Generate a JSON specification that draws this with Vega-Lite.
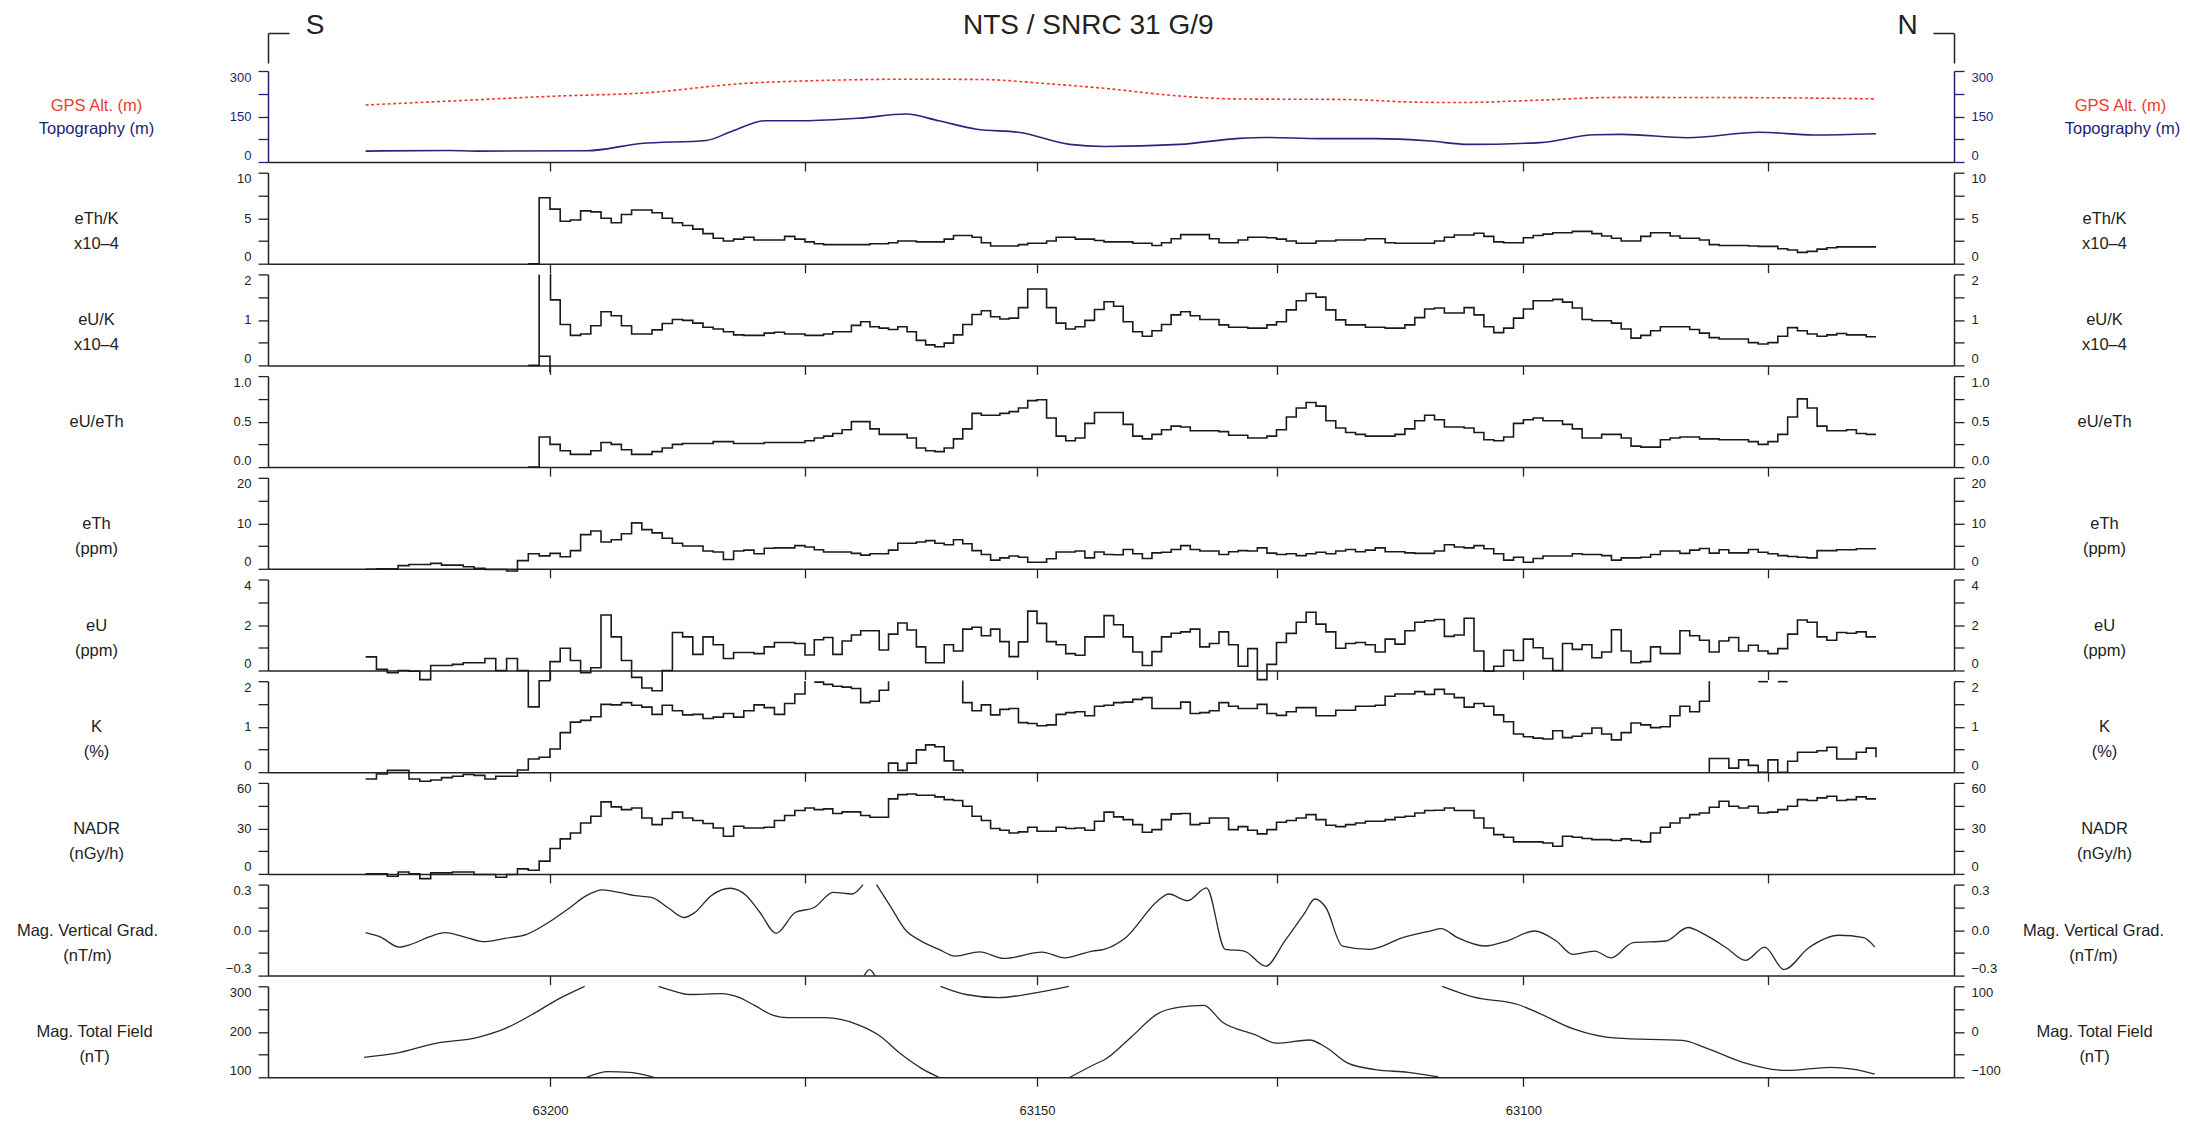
{
"$schema":"https://vega.github.io/schema/vega-lite/v6.json",
"background":"white",
"autosize":{"type":"pad"},
"padding":{"left":16,"top":11,"right":5,"bottom":5},
"bounds":"flush",
"spacing":10.7,
"config":{
 "view":{"stroke":null},
 "font":"Liberation Sans",
 "axis":{"grid":false,"domainColor":"#222","tickColor":"#222","labelColor":"#222","titleColor":"#222","labelFont":"Liberation Sans","titleFont":"Liberation Sans","labelFontSize":13,"titleFontSize":16.5,"titleFontWeight":"normal","domainWidth":1.5,"tickWidth":1.3,"tickSize":10,"labelPadding":7},
 "axisY":{"titleAngle":0,"titleAlign":"center","titleBaseline":"middle","titleLineHeight":25,"labelFlush":true,"labelOverlap":false}
},
"resolve":{"scale":{"x":"independent","y":"independent"},"axis":{"x":"independent","y":"independent"}},
"datasets":{
"gps":[{"f":63217,"v":188},{"f":63208,"v":203},{"f":63199.6,"v":217},{"f":63191.1,"v":227},{"f":63180.5,"v":260},{"f":63175.2,"v":267},{"f":63163.5,"v":273},{"f":63155.9,"v":272},{"f":63148.9,"v":258},{"f":63143,"v":243},{"f":63135.7,"v":219},{"f":63129.5,"v":208},{"f":63117.8,"v":206},{"f":63111.7,"v":198},{"f":63106.7,"v":196},{"f":63098.3,"v":204},{"f":63090.5,"v":213},{"f":63075.9,"v":212},{"f":63064,"v":208}],
"topo":[{"f":63217,"v":36},{"f":63209.2,"v":38},{"f":63206.7,"v":36},{"f":63196.4,"v":37},{"f":63191.1,"v":61},{"f":63184.7,"v":71},{"f":63182.1,"v":102},{"f":63178.9,"v":136},{"f":63175.2,"v":136},{"f":63169.3,"v":144},{"f":63164.1,"v":158},{"f":63160.6,"v":136},{"f":63156.5,"v":108},{"f":63151.8,"v":97},{"f":63146.6,"v":58},{"f":63143,"v":51},{"f":63135.1,"v":58},{"f":63128.9,"v":78},{"f":63126.1,"v":81},{"f":63120.6,"v":77},{"f":63115,"v":77},{"f":63109.4,"v":69},{"f":63105.6,"v":58},{"f":63098.3,"v":64},{"f":63092.7,"v":90},{"f":63089.9,"v":91},{"f":63083.2,"v":80},{"f":63075.9,"v":98},{"f":63070.3,"v":89},{"f":63064,"v":93}],
"thk":[{"f":63202,"v":0},{"f":63201,"v":7.25},{"f":63200,"v":6.0},{"f":63199,"v":4.66},{"f":63198,"v":4.8},{"f":63197,"v":5.8},{"f":63196,"v":5.7},{"f":63195,"v":5.0},{"f":63194,"v":4.5},{"f":63193,"v":5.4},{"f":63192,"v":5.9},{"f":63190,"v":5.6},{"f":63189,"v":5.0},{"f":63188,"v":4.5},{"f":63187,"v":4.2},{"f":63186,"v":3.8},{"f":63185,"v":3.3},{"f":63184,"v":2.8},{"f":63183,"v":2.5},{"f":63182,"v":2.7},{"f":63181,"v":2.9},{"f":63180,"v":2.6},{"f":63177,"v":3.0},{"f":63176,"v":2.7},{"f":63175,"v":2.4},{"f":63174,"v":2.2},{"f":63173,"v":2.1},{"f":63168,"v":2.2},{"f":63166,"v":2.3},{"f":63165,"v":2.5},{"f":63163,"v":2.4},{"f":63160,"v":2.7},{"f":63159,"v":3.1},{"f":63157,"v":2.9},{"f":63156,"v":2.3},{"f":63155,"v":1.95},{"f":63152,"v":2.1},{"f":63151,"v":2.25},{"f":63149,"v":2.5},{"f":63148,"v":2.9},{"f":63146,"v":2.7},{"f":63144,"v":2.55},{"f":63143,"v":2.4},{"f":63140,"v":2.25},{"f":63138,"v":2.0},{"f":63137,"v":2.3},{"f":63136,"v":2.75},{"f":63135,"v":3.2},{"f":63132,"v":2.75},{"f":63131,"v":2.3},{"f":63129,"v":2.6},{"f":63128,"v":2.9},{"f":63126,"v":2.85},{"f":63125,"v":2.7},{"f":63124,"v":2.5},{"f":63123,"v":2.25},{"f":63121,"v":2.5},{"f":63119,"v":2.6},{"f":63116,"v":2.75},{"f":63114,"v":2.3},{"f":63113,"v":2.25},{"f":63109,"v":2.5},{"f":63108,"v":2.9},{"f":63107,"v":3.15},{"f":63105,"v":3.35},{"f":63104,"v":3.0},{"f":63103,"v":2.4},{"f":63102,"v":2.3},{"f":63100,"v":2.85},{"f":63099,"v":3.1},{"f":63098,"v":3.25},{"f":63097,"v":3.4},{"f":63095,"v":3.55},{"f":63093,"v":3.3},{"f":63092,"v":3.05},{"f":63091,"v":2.8},{"f":63090,"v":2.5},{"f":63088,"v":3.0},{"f":63087,"v":3.4},{"f":63085,"v":3.05},{"f":63084,"v":2.8},{"f":63082,"v":2.6},{"f":63081,"v":2.1},{"f":63080,"v":2.0},{"f":63077,"v":1.95},{"f":63076,"v":1.9},{"f":63074,"v":1.65},{"f":63073,"v":1.5},{"f":63072,"v":1.25},{"f":63071,"v":1.35},{"f":63070,"v":1.6},{"f":63069,"v":1.75},{"f":63068,"v":1.85},{"f":63064,"v":1.85}],
"uk":[{"s":1,"f":63202,"v":0},{"s":1,"f":63201,"v":2.0},{"s":2,"f":63201,"v":0.2},{"s":2,"f":63200,"v":-0.15},{"s":3,"f":63200,"v":2.0},{"s":3,"f":63199.95,"v":1.44},{"s":3,"f":63199,"v":0.9},{"s":3,"f":63198,"v":0.66},{"s":3,"f":63197,"v":0.69},{"s":3,"f":63196,"v":0.87},{"s":3,"f":63195,"v":1.18},{"s":3,"f":63194,"v":1.09},{"s":3,"f":63193,"v":0.87},{"s":3,"f":63192,"v":0.69},{"s":3,"f":63190,"v":0.78},{"s":3,"f":63189,"v":0.92},{"s":3,"f":63188,"v":1.01},{"s":3,"f":63187,"v":0.99},{"s":3,"f":63186,"v":0.93},{"s":3,"f":63185,"v":0.84},{"s":3,"f":63184,"v":0.8},{"s":3,"f":63183,"v":0.74},{"s":3,"f":63182,"v":0.67},{"s":3,"f":63181,"v":0.66},{"s":3,"f":63179,"v":0.71},{"s":3,"f":63178,"v":0.73},{"s":3,"f":63177,"v":0.69},{"s":3,"f":63175,"v":0.66},{"s":3,"f":63173,"v":0.69},{"s":3,"f":63172,"v":0.74},{"s":3,"f":63170,"v":0.88},{"s":3,"f":63169,"v":0.96},{"s":3,"f":63168,"v":0.85},{"s":3,"f":63167,"v":0.82},{"s":3,"f":63166,"v":0.79},{"s":3,"f":63165,"v":0.85},{"s":3,"f":63164,"v":0.74},{"s":3,"f":63163,"v":0.55},{"s":3,"f":63162,"v":0.45},{"s":3,"f":63161,"v":0.41},{"s":3,"f":63160,"v":0.49},{"s":3,"f":63159,"v":0.67},{"s":3,"f":63158,"v":0.9},{"s":3,"f":63157,"v":1.12},{"s":3,"f":63156,"v":1.2},{"s":3,"f":63155,"v":1.07},{"s":3,"f":63154,"v":1.02},{"s":3,"f":63153,"v":1.04},{"s":3,"f":63152,"v":1.27},{"s":3,"f":63151,"v":1.68},{"s":3,"f":63149,"v":1.27},{"s":3,"f":63148,"v":0.93},{"s":3,"f":63147,"v":0.8},{"s":3,"f":63146,"v":0.85},{"s":3,"f":63145,"v":0.99},{"s":3,"f":63144,"v":1.23},{"s":3,"f":63143,"v":1.4},{"s":3,"f":63142,"v":1.3},{"s":3,"f":63141,"v":0.96},{"s":3,"f":63140,"v":0.74},{"s":3,"f":63139,"v":0.64},{"s":3,"f":63138,"v":0.76},{"s":3,"f":63137,"v":0.9},{"s":3,"f":63136,"v":1.11},{"s":3,"f":63135,"v":1.18},{"s":3,"f":63134,"v":1.09},{"s":3,"f":63133,"v":1.01},{"s":3,"f":63131,"v":0.89},{"s":3,"f":63130,"v":0.84},{"s":3,"f":63128,"v":0.82},{"s":3,"f":63126,"v":0.89},{"s":3,"f":63125,"v":0.96},{"s":3,"f":63124,"v":1.22},{"s":3,"f":63123,"v":1.42},{"s":3,"f":63122,"v":1.58},{"s":3,"f":63121,"v":1.5},{"s":3,"f":63120,"v":1.22},{"s":3,"f":63119,"v":1.0},{"s":3,"f":63118,"v":0.89},{"s":3,"f":63116,"v":0.84},{"s":3,"f":63114,"v":0.82},{"s":3,"f":63112,"v":0.89},{"s":3,"f":63111,"v":1.05},{"s":3,"f":63110,"v":1.24},{"s":3,"f":63109,"v":1.26},{"s":3,"f":63108,"v":1.15},{"s":3,"f":63106,"v":1.27},{"s":3,"f":63105,"v":1.11},{"s":3,"f":63104,"v":0.85},{"s":3,"f":63103,"v":0.72},{"s":3,"f":63102,"v":0.82},{"s":3,"f":63101,"v":1.04},{"s":3,"f":63100,"v":1.24},{"s":3,"f":63099,"v":1.42},{"s":3,"f":63097,"v":1.45},{"s":3,"f":63096,"v":1.39},{"s":3,"f":63095,"v":1.26},{"s":3,"f":63094,"v":1.01},{"s":3,"f":63093,"v":0.98},{"s":3,"f":63091,"v":0.93},{"s":3,"f":63090,"v":0.8},{"s":3,"f":63089,"v":0.6},{"s":3,"f":63088,"v":0.66},{"s":3,"f":63087,"v":0.76},{"s":3,"f":63086,"v":0.85},{"s":3,"f":63083,"v":0.79},{"s":3,"f":63082,"v":0.71},{"s":3,"f":63081,"v":0.61},{"s":3,"f":63080,"v":0.58},{"s":3,"f":63077,"v":0.5},{"s":3,"f":63076,"v":0.47},{"s":3,"f":63075,"v":0.5},{"s":3,"f":63074,"v":0.64},{"s":3,"f":63073,"v":0.83},{"s":3,"f":63072,"v":0.76},{"s":3,"f":63071,"v":0.69},{"s":3,"f":63070,"v":0.64},{"s":3,"f":63069,"v":0.67},{"s":3,"f":63068,"v":0.7},{"s":3,"f":63067,"v":0.67},{"s":3,"f":63065,"v":0.63},{"s":3,"f":63064,"v":0.63}],
"uth":[{"f":63202,"v":0},{"f":63201,"v":0.33},{"f":63200,"v":0.25},{"f":63199,"v":0.18},{"f":63198,"v":0.14},{"f":63196,"v":0.18},{"f":63195,"v":0.27},{"f":63194,"v":0.25},{"f":63193,"v":0.19},{"f":63192,"v":0.14},{"f":63190,"v":0.17},{"f":63189,"v":0.21},{"f":63188,"v":0.25},{"f":63187,"v":0.26},{"f":63184,"v":0.28},{"f":63182,"v":0.26},{"f":63179,"v":0.27},{"f":63175,"v":0.29},{"f":63174,"v":0.32},{"f":63173,"v":0.34},{"f":63172,"v":0.37},{"f":63171,"v":0.41},{"f":63170,"v":0.5},{"f":63168,"v":0.42},{"f":63167,"v":0.36},{"f":63164,"v":0.32},{"f":63163,"v":0.21},{"f":63162,"v":0.18},{"f":63161,"v":0.17},{"f":63160,"v":0.21},{"f":63159,"v":0.31},{"f":63158,"v":0.42},{"f":63157,"v":0.59},{"f":63156,"v":0.57},{"f":63154,"v":0.59},{"f":63153,"v":0.61},{"f":63152,"v":0.65},{"f":63151,"v":0.73},{"f":63150,"v":0.74},{"f":63149,"v":0.54},{"f":63148,"v":0.34},{"f":63147,"v":0.29},{"f":63146,"v":0.32},{"f":63145,"v":0.48},{"f":63144,"v":0.6},{"f":63141,"v":0.47},{"f":63140,"v":0.34},{"f":63139,"v":0.31},{"f":63138,"v":0.36},{"f":63137,"v":0.41},{"f":63136,"v":0.45},{"f":63135,"v":0.44},{"f":63134,"v":0.4},{"f":63131,"v":0.39},{"f":63130,"v":0.35},{"f":63128,"v":0.32},{"f":63126,"v":0.34},{"f":63125,"v":0.41},{"f":63124,"v":0.55},{"f":63123,"v":0.65},{"f":63122,"v":0.71},{"f":63121,"v":0.67},{"f":63120,"v":0.51},{"f":63119,"v":0.43},{"f":63118,"v":0.38},{"f":63117,"v":0.36},{"f":63116,"v":0.34},{"f":63113,"v":0.36},{"f":63112,"v":0.42},{"f":63111,"v":0.51},{"f":63110,"v":0.57},{"f":63109,"v":0.52},{"f":63108,"v":0.44},{"f":63106,"v":0.43},{"f":63105,"v":0.38},{"f":63104,"v":0.3},{"f":63103,"v":0.29},{"f":63102,"v":0.33},{"f":63101,"v":0.48},{"f":63100,"v":0.52},{"f":63099,"v":0.54},{"f":63098,"v":0.51},{"f":63096,"v":0.47},{"f":63095,"v":0.42},{"f":63094,"v":0.32},{"f":63092,"v":0.36},{"f":63090,"v":0.32},{"f":63089,"v":0.23},{"f":63088,"v":0.22},{"f":63086,"v":0.3},{"f":63085,"v":0.32},{"f":63084,"v":0.33},{"f":63082,"v":0.31},{"f":63080,"v":0.3},{"f":63077,"v":0.28},{"f":63076,"v":0.25},{"f":63075,"v":0.28},{"f":63074,"v":0.36},{"f":63073,"v":0.55},{"f":63072,"v":0.75},{"f":63071,"v":0.65},{"f":63070,"v":0.45},{"f":63069,"v":0.4},{"f":63067,"v":0.41},{"f":63066,"v":0.37},{"f":63065,"v":0.36},{"f":63064,"v":0.36}],
"th":[{"f":63217,"v":-0.1},{"f":63216,"v":0},{"f":63214,"v":0.7},{"f":63213,"v":0.95},{"f":63211,"v":1.2},{"f":63210,"v":0.8},{"f":63208,"v":0.45},{"f":63207,"v":0.1},{"f":63206,"v":-0.15},{"f":63204,"v":-0.5},{"f":63203,"v":1.8},{"f":63202,"v":3.3},{"f":63201,"v":2.85},{"f":63200,"v":3.4},{"f":63199,"v":2.65},{"f":63198,"v":4.0},{"f":63197,"v":7.5},{"f":63196,"v":8.3},{"f":63195,"v":5.9},{"f":63194,"v":6.4},{"f":63193,"v":7.7},{"f":63192,"v":10.1},{"f":63191,"v":8.6},{"f":63190,"v":7.9},{"f":63189,"v":6.7},{"f":63188,"v":5.6},{"f":63187,"v":5.0},{"f":63185,"v":3.9},{"f":63184,"v":3.7},{"f":63183,"v":2.05},{"f":63182,"v":3.9},{"f":63181,"v":4.1},{"f":63180,"v":3.3},{"f":63179,"v":4.5},{"f":63178,"v":4.6},{"f":63176,"v":5.1},{"f":63175,"v":4.8},{"f":63174,"v":4.2},{"f":63173,"v":3.7},{"f":63170,"v":3.4},{"f":63169,"v":3.0},{"f":63168,"v":3.3},{"f":63166,"v":4.1},{"f":63165,"v":5.6},{"f":63163,"v":5.9},{"f":63162,"v":6.2},{"f":63161,"v":5.6},{"f":63160,"v":5.3},{"f":63159,"v":6.4},{"f":63158,"v":5.5},{"f":63157,"v":4.0},{"f":63156,"v":3.15},{"f":63155,"v":1.9},{"f":63154,"v":2.4},{"f":63153,"v":2.8},{"f":63152,"v":2.55},{"f":63151,"v":1.45},{"f":63149,"v":2.2},{"f":63148,"v":3.7},{"f":63146,"v":3.9},{"f":63145,"v":2.4},{"f":63144,"v":3.7},{"f":63143,"v":3.15},{"f":63142,"v":3.1},{"f":63141,"v":4.25},{"f":63140,"v":3.3},{"f":63139,"v":2.25},{"f":63138,"v":3.5},{"f":63137,"v":3.65},{"f":63136,"v":4.25},{"f":63135,"v":5.1},{"f":63134,"v":4.25},{"f":63133,"v":3.9},{"f":63131,"v":3.15},{"f":63130,"v":3.75},{"f":63129,"v":4.0},{"f":63128,"v":3.9},{"f":63127,"v":4.6},{"f":63126,"v":3.45},{"f":63125,"v":3.15},{"f":63124,"v":3.3},{"f":63123,"v":2.9},{"f":63122,"v":3.3},{"f":63121,"v":3.65},{"f":63120,"v":3.3},{"f":63119,"v":3.9},{"f":63118,"v":4.25},{"f":63117,"v":3.75},{"f":63116,"v":4.1},{"f":63115,"v":4.6},{"f":63114,"v":3.75},{"f":63112,"v":3.5},{"f":63111,"v":3.4},{"f":63109,"v":3.9},{"f":63108,"v":5.3},{"f":63107,"v":4.8},{"f":63106,"v":4.6},{"f":63105,"v":5.1},{"f":63104,"v":4.4},{"f":63103,"v":3.3},{"f":63102,"v":1.9},{"f":63101,"v":2.55},{"f":63100,"v":1.45},{"f":63099,"v":2.25},{"f":63098,"v":2.8},{"f":63095,"v":3.3},{"f":63094,"v":3.15},{"f":63092,"v":2.9},{"f":63091,"v":1.9},{"f":63090,"v":2.4},{"f":63088,"v":2.55},{"f":63087,"v":3.15},{"f":63086,"v":3.9},{"f":63084,"v":3.4},{"f":63083,"v":4.1},{"f":63082,"v":4.45},{"f":63081,"v":3.45},{"f":63080,"v":4.2},{"f":63079,"v":3.5},{"f":63077,"v":4.25},{"f":63076,"v":3.65},{"f":63075,"v":3.3},{"f":63074,"v":2.9},{"f":63073,"v":2.7},{"f":63072,"v":2.55},{"f":63071,"v":2.4},{"f":63070,"v":4.0},{"f":63068,"v":4.2},{"f":63066,"v":4.4},{"f":63064,"v":4.4}],
"u":[{"f":63217,"v":0.6},{"f":63216,"v":0.05},{"f":63215,"v":-0.1},{"f":63214,"v":0},{"f":63213,"v":-0.03},{"f":63212,"v":-0.4},{"f":63211,"v":0.22},{"f":63209,"v":0.27},{"f":63208,"v":0.34},{"f":63206,"v":0.53},{"f":63205,"v":0},{"f":63204,"v":0.53},{"f":63203,"v":0},{"f":63202,"v":-1.6},{"f":63201,"v":-0.45},{"f":63200,"v":0.39},{"f":63199,"v":0.98},{"f":63198,"v":0.44},{"f":63197,"v":-0.1},{"f":63196,"v":0.12},{"f":63195,"v":2.44},{"f":63194,"v":1.48},{"f":63193,"v":0.44},{"f":63192,"v":-0.3},{"f":63191,"v":-0.77},{"f":63190,"v":-0.89},{"f":63189,"v":0},{"f":63188,"v":1.67},{"f":63187,"v":1.48},{"f":63186,"v":0.71},{"f":63185,"v":1.48},{"f":63184,"v":1.13},{"f":63183,"v":0.53},{"f":63182,"v":0.79},{"f":63180,"v":0.74},{"f":63179,"v":1.04},{"f":63178,"v":1.23},{"f":63176,"v":1.19},{"f":63175,"v":0.68},{"f":63174,"v":1.35},{"f":63173,"v":1.45},{"f":63172,"v":0.71},{"f":63171,"v":1.3},{"f":63170,"v":1.56},{"f":63169,"v":1.75},{"f":63167,"v":0.9},{"f":63166,"v":1.6},{"f":63165,"v":2.09},{"f":63164,"v":1.78},{"f":63163,"v":1.04},{"f":63162,"v":0.34},{"f":63160,"v":1.13},{"f":63159,"v":0.86},{"f":63158,"v":1.82},{"f":63157,"v":1.9},{"f":63156,"v":1.53},{"f":63155,"v":1.82},{"f":63154,"v":1.27},{"f":63153,"v":0.61},{"f":63152,"v":1.26},{"f":63151,"v":2.61},{"f":63150,"v":2.07},{"f":63149,"v":1.27},{"f":63148,"v":1.13},{"f":63147,"v":0.74},{"f":63146,"v":0.67},{"f":63145,"v":1.48},{"f":63143,"v":2.41},{"f":63142,"v":2.01},{"f":63141,"v":1.48},{"f":63140,"v":0.81},{"f":63139,"v":0.22},{"f":63138,"v":0.83},{"f":63137,"v":1.48},{"f":63136,"v":1.64},{"f":63135,"v":1.7},{"f":63134,"v":1.82},{"f":63133,"v":1.04},{"f":63132,"v":1.19},{"f":63131,"v":1.7},{"f":63130,"v":1.13},{"f":63129,"v":0.19},{"f":63128,"v":0.96},{"f":63127,"v":-0.4},{"f":63126,"v":0.27},{"f":63125,"v":1.23},{"f":63124,"v":1.63},{"f":63123,"v":2.12},{"f":63122,"v":2.56},{"f":63121,"v":2.04},{"f":63120,"v":1.7},{"f":63119,"v":0.98},{"f":63118,"v":1.19},{"f":63117,"v":1.23},{"f":63116,"v":1.13},{"f":63115,"v":0.81},{"f":63114,"v":1.38},{"f":63113,"v":1.16},{"f":63112,"v":1.75},{"f":63111,"v":2.12},{"f":63110,"v":2.19},{"f":63109,"v":2.24},{"f":63108,"v":1.5},{"f":63107,"v":1.56},{"f":63106,"v":2.3},{"f":63105,"v":0.86},{"f":63104,"v":-0.03},{"f":63103,"v":0.19},{"f":63102,"v":0.89},{"f":63101,"v":0.44},{"f":63100,"v":1.38},{"f":63099,"v":1.0},{"f":63098,"v":0.53},{"f":63097,"v":0},{"f":63096,"v":1.19},{"f":63095,"v":0.93},{"f":63094,"v":1.13},{"f":63093,"v":0.56},{"f":63092,"v":0.81},{"f":63091,"v":1.79},{"f":63090,"v":0.86},{"f":63089,"v":0.34},{"f":63088,"v":0.39},{"f":63087,"v":1.04},{"f":63086,"v":0.74},{"f":63084,"v":1.75},{"f":63083,"v":1.53},{"f":63082,"v":1.33},{"f":63081,"v":0.81},{"f":63080,"v":1.3},{"f":63079,"v":1.45},{"f":63078,"v":0.86},{"f":63077,"v":1.11},{"f":63076,"v":0.86},{"f":63075,"v":0.74},{"f":63074,"v":0.96},{"f":63073,"v":1.6},{"f":63072,"v":2.22},{"f":63071,"v":2.12},{"f":63070,"v":1.48},{"f":63069,"v":1.33},{"f":63068,"v":1.67},{"f":63067,"v":1.64},{"f":63066,"v":1.7},{"f":63065,"v":1.48},{"f":63064,"v":1.48}],
"k":[{"s":1,"f":63217,"v":-0.15},{"s":1,"f":63216,"v":-0.04},{"s":1,"f":63215,"v":0.04},{"s":1,"f":63213,"v":-0.15},{"s":1,"f":63212,"v":-0.2},{"s":1,"f":63211,"v":-0.17},{"s":1,"f":63210,"v":-0.12},{"s":1,"f":63209,"v":-0.09},{"s":1,"f":63208,"v":-0.05},{"s":1,"f":63207,"v":-0.07},{"s":1,"f":63206,"v":-0.15},{"s":1,"f":63205,"v":-0.09},{"s":1,"f":63203,"v":0.05},{"s":1,"f":63202,"v":0.29},{"s":1,"f":63201,"v":0.33},{"s":1,"f":63200,"v":0.51},{"s":1,"f":63199,"v":0.87},{"s":1,"f":63198,"v":1.1},{"s":1,"f":63197,"v":1.14},{"s":1,"f":63196,"v":1.22},{"s":1,"f":63195,"v":1.49},{"s":1,"f":63194,"v":1.48},{"s":1,"f":63193,"v":1.53},{"s":1,"f":63192,"v":1.47},{"s":1,"f":63191,"v":1.43},{"s":1,"f":63190,"v":1.27},{"s":1,"f":63189,"v":1.47},{"s":1,"f":63188,"v":1.35},{"s":1,"f":63187,"v":1.26},{"s":1,"f":63186,"v":1.27},{"s":1,"f":63185,"v":1.18},{"s":1,"f":63184,"v":1.21},{"s":1,"f":63183,"v":1.29},{"s":1,"f":63182,"v":1.21},{"s":1,"f":63181,"v":1.35},{"s":1,"f":63180,"v":1.48},{"s":1,"f":63179,"v":1.42},{"s":1,"f":63178,"v":1.27},{"s":1,"f":63177,"v":1.51},{"s":1,"f":63176,"v":1.72},{"s":1,"f":63175,"v":2.0},
{"s":2,"f":63174,"v":1.98},{"s":2,"f":63173,"v":1.93},{"s":2,"f":63172,"v":1.89},{"s":2,"f":63171,"v":1.87},{"s":2,"f":63170,"v":1.84},{"s":2,"f":63169,"v":1.53},{"s":2,"f":63168,"v":1.56},{"s":2,"f":63167,"v":1.8},{"s":2,"f":63166,"v":2.0},
{"s":3,"f":63166.05,"v":0},{"s":3,"f":63166,"v":0.2},{"s":3,"f":63165,"v":0.04},{"s":3,"f":63164,"v":0.2},{"s":3,"f":63163,"v":0.49},{"s":3,"f":63162,"v":0.6},{"s":3,"f":63161,"v":0.56},{"s":3,"f":63160,"v":0.25},{"s":3,"f":63159,"v":0.05},{"s":3,"f":63158,"v":0},
{"s":4,"f":63158.05,"v":2.0},{"s":4,"f":63158,"v":1.53},{"s":4,"f":63157,"v":1.35},{"s":4,"f":63156,"v":1.48},{"s":4,"f":63155,"v":1.26},{"s":4,"f":63154,"v":1.38},{"s":4,"f":63153,"v":1.4},{"s":4,"f":63152,"v":1.09},{"s":4,"f":63151,"v":1.07},{"s":4,"f":63150,"v":1.02},{"s":4,"f":63149,"v":1.04},{"s":4,"f":63148,"v":1.27},{"s":4,"f":63147,"v":1.31},{"s":4,"f":63146,"v":1.33},{"s":4,"f":63145,"v":1.24},{"s":4,"f":63144,"v":1.45},{"s":4,"f":63143,"v":1.47},{"s":4,"f":63142,"v":1.53},{"s":4,"f":63141,"v":1.54},{"s":4,"f":63140,"v":1.6},{"s":4,"f":63139,"v":1.64},{"s":4,"f":63138,"v":1.4},{"s":4,"f":63135,"v":1.54},{"s":4,"f":63134,"v":1.29},{"s":4,"f":63133,"v":1.31},{"s":4,"f":63132,"v":1.35},{"s":4,"f":63131,"v":1.53},{"s":4,"f":63130,"v":1.45},{"s":4,"f":63129,"v":1.4},{"s":4,"f":63127,"v":1.49},{"s":4,"f":63126,"v":1.29},{"s":4,"f":63125,"v":1.25},{"s":4,"f":63124,"v":1.33},{"s":4,"f":63123,"v":1.42},{"s":4,"f":63121,"v":1.24},{"s":4,"f":63119,"v":1.36},{"s":4,"f":63117,"v":1.45},{"s":4,"f":63115,"v":1.47},{"s":4,"f":63114,"v":1.67},{"s":4,"f":63113,"v":1.72},{"s":4,"f":63111,"v":1.77},{"s":4,"f":63110,"v":1.71},{"s":4,"f":63109,"v":1.82},{"s":4,"f":63108,"v":1.72},{"s":4,"f":63107,"v":1.64},{"s":4,"f":63106,"v":1.43},{"s":4,"f":63105,"v":1.51},{"s":4,"f":63104,"v":1.45},{"s":4,"f":63103,"v":1.26},{"s":4,"f":63102,"v":1.11},{"s":4,"f":63101,"v":0.84},{"s":4,"f":63100,"v":0.78},{"s":4,"f":63099,"v":0.75},{"s":4,"f":63098,"v":0.73},{"s":4,"f":63097,"v":0.91},{"s":4,"f":63096,"v":0.76},{"s":4,"f":63095,"v":0.79},{"s":4,"f":63094,"v":0.85},{"s":4,"f":63093,"v":0.97},{"s":4,"f":63092,"v":0.84},{"s":4,"f":63091,"v":0.71},{"s":4,"f":63090,"v":0.87},{"s":4,"f":63089,"v":1.08},{"s":4,"f":63088,"v":1.04},{"s":4,"f":63087,"v":0.98},{"s":4,"f":63086,"v":1.0},{"s":4,"f":63085,"v":1.24},{"s":4,"f":63084,"v":1.45},{"s":4,"f":63083,"v":1.33},{"s":4,"f":63082,"v":1.56},{"s":4,"f":63081,"v":2.0},
{"s":5,"f":63081.05,"v":0},{"s":5,"f":63081,"v":0.3},{"s":5,"f":63079,"v":0.09},{"s":5,"f":63078,"v":0.27},{"s":5,"f":63077,"v":0.15},{"s":5,"f":63076,"v":0},{"s":5,"f":63075,"v":0.27},{"s":5,"f":63074,"v":0},{"s":5,"f":63073,"v":0.24},{"s":5,"f":63072,"v":0.44},{"s":5,"f":63070,"v":0.47},{"s":5,"f":63069,"v":0.55},{"s":5,"f":63068,"v":0.29},{"s":5,"f":63066,"v":0.44},{"s":5,"f":63065,"v":0.53},{"s":5,"f":63064,"v":0.33},
{"s":6,"f":63076,"v":1.99},{"s":6,"f":63075,"v":1.99},{"s":7,"f":63074,"v":1.99},{"s":7,"f":63073,"v":1.99}],
"nadr":[{"f":63217,"v":0},{"f":63215,"v":-1.5},{"f":63214,"v":1.3},{"f":63213,"v":0},{"f":63212,"v":-3.1},{"f":63211,"v":0.7},{"f":63209,"v":1.3},{"f":63207,"v":-0.4},{"f":63205,"v":-2.2},{"f":63204,"v":-0.4},{"f":63203,"v":3.3},{"f":63202,"v":2.4},{"f":63201,"v":8.4},{"f":63200,"v":16.7},{"f":63199,"v":23.1},{"f":63198,"v":27},{"f":63197,"v":33.6},{"f":63196,"v":38},{"f":63195,"v":47.5},{"f":63194,"v":44.2},{"f":63193,"v":42.4},{"f":63192,"v":43.5},{"f":63191,"v":36.9},{"f":63190,"v":32.5},{"f":63189,"v":36.5},{"f":63188,"v":40.7},{"f":63187,"v":36.9},{"f":63186,"v":35.2},{"f":63185,"v":33.2},{"f":63184,"v":30.3},{"f":63183,"v":24.8},{"f":63182,"v":31.4},{"f":63181,"v":30.3},{"f":63179,"v":30.8},{"f":63178,"v":35.2},{"f":63177,"v":38.5},{"f":63176,"v":41.8},{"f":63175,"v":43.5},{"f":63174,"v":42.4},{"f":63173,"v":42.9},{"f":63172,"v":39.8},{"f":63171,"v":40.9},{"f":63169,"v":38.5},{"f":63168,"v":37.4},{"f":63166,"v":49.5},{"f":63165,"v":52.3},{"f":63164,"v":52.7},{"f":63163,"v":51.9},{"f":63161,"v":50.8},{"f":63160,"v":49},{"f":63159,"v":48.4},{"f":63158,"v":44.6},{"f":63157,"v":38},{"f":63156,"v":35.2},{"f":63155,"v":29.9},{"f":63154,"v":28.8},{"f":63153,"v":27},{"f":63152,"v":27.7},{"f":63151,"v":30.8},{"f":63150,"v":28.1},{"f":63148,"v":30.8},{"f":63147,"v":29.9},{"f":63146,"v":30.3},{"f":63145,"v":28.8},{"f":63144,"v":34.7},{"f":63143,"v":40.7},{"f":63142,"v":37.6},{"f":63141,"v":35.8},{"f":63140,"v":32.5},{"f":63139,"v":27.5},{"f":63138,"v":29.2},{"f":63137,"v":35.8},{"f":63136,"v":39.6},{"f":63135,"v":39.8},{"f":63134,"v":32.5},{"f":63133,"v":33.4},{"f":63132,"v":36.9},{"f":63130,"v":29.2},{"f":63129,"v":31.2},{"f":63128,"v":28.8},{"f":63127,"v":26.4},{"f":63126,"v":29.2},{"f":63125,"v":34.1},{"f":63124,"v":35.2},{"f":63123,"v":36.9},{"f":63122,"v":39.1},{"f":63121,"v":35.8},{"f":63120,"v":32.1},{"f":63119,"v":31.2},{"f":63118,"v":32.5},{"f":63117,"v":33.6},{"f":63116,"v":34.7},{"f":63114,"v":35.8},{"f":63113,"v":37.4},{"f":63112,"v":38},{"f":63111,"v":40.2},{"f":63110,"v":41.8},{"f":63109,"v":42},{"f":63108,"v":43.5},{"f":63107,"v":41.8},{"f":63105,"v":36.9},{"f":63104,"v":30.3},{"f":63103,"v":25.9},{"f":63102,"v":24.2},{"f":63101,"v":21.1},{"f":63098,"v":20.4},{"f":63097,"v":18.2},{"f":63096,"v":24.8},{"f":63095,"v":24.2},{"f":63094,"v":23.3},{"f":63093,"v":22.6},{"f":63091,"v":22},{"f":63090,"v":23.1},{"f":63089,"v":22},{"f":63088,"v":21.1},{"f":63087,"v":27},{"f":63086,"v":30.8},{"f":63085,"v":33.6},{"f":63084,"v":36.9},{"f":63083,"v":39.1},{"f":63082,"v":40.2},{"f":63081,"v":43.9},{"f":63080,"v":47.9},{"f":63079,"v":44.6},{"f":63078,"v":43.5},{"f":63077,"v":44.6},{"f":63076,"v":40.2},{"f":63075,"v":40.7},{"f":63074,"v":42.4},{"f":63073,"v":44.6},{"f":63072,"v":49},{"f":63071,"v":48.4},{"f":63070,"v":50.1},{"f":63069,"v":51.2},{"f":63068,"v":48.4},{"f":63067,"v":49},{"f":63066,"v":50.8},{"f":63065,"v":49.5},{"f":63064,"v":49.5}],
"mvg":[{"s":1,"f":63217,"v":-0.017},{"s":1,"f":63215.65,"v":-0.045},{"s":1,"f":63213.9,"v":-0.112},{"s":1,"f":63212.65,"v":-0.09},{"s":1,"f":63211.15,"v":-0.045},{"s":1,"f":63209.65,"v":-0.017},{"s":1,"f":63208.15,"v":-0.039},{"s":1,"f":63206.15,"v":-0.076},{"s":1,"f":63204.15,"v":-0.054},{"s":1,"f":63202.15,"v":-0.028},{"s":1,"f":63200.15,"v":0.05},{"s":1,"f":63198.03,"v":0.149},{"s":1,"f":63196.44,"v":0.227},{"s":1,"f":63194.84,"v":0.265},{"s":1,"f":63193.24,"v":0.249},{"s":1,"f":63191.65,"v":0.227},{"s":1,"f":63190.05,"v":0.216},{"s":1,"f":63188.46,"v":0.149},{"s":1,"f":63186.86,"v":0.083},{"s":1,"f":63185.8,"v":0.116},{"s":1,"f":63184.2,"v":0.227},{"s":1,"f":63182.34,"v":0.276},{"s":1,"f":63180.74,"v":0.227},{"s":1,"f":63179.41,"v":0.116},{"s":1,"f":63177.82,"v":-0.021},{"s":1,"f":63175.96,"v":0.116},{"s":1,"f":63174.01,"v":0.149},{"s":1,"f":63171.96,"v":0.249},{"s":1,"f":63169.92,"v":0.238},{"s":1,"f":63168.75,"v":0.3},
{"s":2,"f":63168.63,"v":-0.3},{"s":2,"f":63168.05,"v":-0.26},{"s":2,"f":63167.46,"v":-0.3},
{"s":3,"f":63167.29,"v":0.3},{"s":3,"f":63165.83,"v":0.16},{"s":3,"f":63164.08,"v":-0.006},{"s":3,"f":63162.62,"v":-0.068},{"s":3,"f":63160.57,"v":-0.127},{"s":3,"f":63158.82,"v":-0.172},{"s":3,"f":63156.19,"v":-0.143},{"s":3,"f":63153.56,"v":-0.187},{"s":3,"f":63149.47,"v":-0.145},{"s":3,"f":63147.14,"v":-0.183},{"s":3,"f":63144.22,"v":-0.138},{"s":3,"f":63143,"v":-0.127},{"s":3,"f":63140.75,"v":-0.05},{"s":3,"f":63137.38,"v":0.194},{"s":3,"f":63136.25,"v":0.238},{"s":3,"f":63134.28,"v":0.194},{"s":3,"f":63132.31,"v":0.278},{"s":3,"f":63130.35,"v":-0.127},{"s":3,"f":63128.38,"v":-0.138},{"s":3,"f":63126.13,"v":-0.238},{"s":3,"f":63124.17,"v":-0.072},{"s":3,"f":63122.22,"v":0.105},{"s":3,"f":63121.11,"v":0.205},{"s":3,"f":63120,"v":0.149},{"s":3,"f":63118.33,"v":-0.105},{"s":3,"f":63115.56,"v":-0.127},{"s":3,"f":63112.22,"v":-0.05},{"s":3,"f":63109.44,"v":-0.006},{"s":3,"f":63108.33,"v":0.01},{"s":3,"f":63106.67,"v":-0.05},{"s":3,"f":63103.89,"v":-0.105},{"s":3,"f":63101.67,"v":-0.072},{"s":3,"f":63098.88,"v":-0.006},{"s":3,"f":63096.64,"v":-0.072},{"s":3,"f":63094.96,"v":-0.16},{"s":3,"f":63092.71,"v":-0.138},{"s":3,"f":63091.03,"v":-0.183},{"s":3,"f":63088.79,"v":-0.083},{"s":3,"f":63085.43,"v":-0.072},{"s":3,"f":63083.18,"v":0.017},{"s":3,"f":63081.5,"v":-0.028},{"s":3,"f":63079.26,"v":-0.116},{"s":3,"f":63077.3,"v":-0.2},{"s":3,"f":63075.34,"v":-0.112},{"s":3,"f":63073.37,"v":-0.26},{"s":3,"f":63070.85,"v":-0.116},{"s":3,"f":63067.77,"v":-0.034},{"s":3,"f":63065.25,"v":-0.05},{"s":3,"f":63064.13,"v":-0.112}],
"mtf":[{"s":1,"f":63217.15,"v":144},{"s":1,"f":63214.15,"v":153},{"s":1,"f":63210.65,"v":174},{"s":1,"f":63206.65,"v":188},{"s":1,"f":63204.15,"v":207},{"s":1,"f":63201.65,"v":238},{"s":1,"f":63199.1,"v":273},{"s":1,"f":63196.6,"v":300},
{"s":2,"f":63196.44,"v":100},{"s":2,"f":63194.31,"v":112.5},{"s":2,"f":63192.18,"v":111},{"s":2,"f":63189.79,"v":100},
{"s":3,"f":63189.36,"v":300},{"s":3,"f":63187.93,"v":290},{"s":3,"f":63186.33,"v":282},{"s":3,"f":63183.14,"v":284},{"s":3,"f":63181.54,"v":276},{"s":3,"f":63179.95,"v":258},{"s":3,"f":63178.09,"v":236},{"s":3,"f":63176.76,"v":231},{"s":3,"f":63172.84,"v":231},{"s":3,"f":63169.33,"v":216},{"s":3,"f":63167,"v":192},{"s":3,"f":63164.66,"v":151},{"s":3,"f":63162.32,"v":118},{"s":3,"f":63160.57,"v":100},
{"s":4,"f":63160.4,"v":300},{"s":4,"f":63157.65,"v":282},{"s":4,"f":63154.15,"v":275},{"s":4,"f":63150.64,"v":284},{"s":4,"f":63146.67,"v":300},
{"s":5,"f":63146.55,"v":100},{"s":5,"f":63143.63,"v":132},{"s":5,"f":63143,"v":138},{"s":5,"f":63140.19,"v":188},{"s":5,"f":63137.38,"v":240},{"s":5,"f":63135.13,"v":254},{"s":5,"f":63132.6,"v":258},{"s":5,"f":63130.63,"v":221},{"s":5,"f":63127.25,"v":194},{"s":5,"f":63125,"v":175},{"s":5,"f":63121.67,"v":182},{"s":5,"f":63120,"v":166},{"s":5,"f":63117.78,"v":131},{"s":5,"f":63115,"v":117},{"s":5,"f":63111.67,"v":111},{"s":5,"f":63108.61,"v":101},
{"s":6,"f":63108.22,"v":300},{"s":6,"f":63105,"v":276},{"s":6,"f":63100.56,"v":260},{"s":6,"f":63098.32,"v":240},{"s":6,"f":63094.96,"v":207},{"s":6,"f":63090.47,"v":186},{"s":6,"f":63083.74,"v":181},{"s":6,"f":63081.5,"v":166},{"s":6,"f":63077.58,"v":133},{"s":6,"f":63073.09,"v":115},{"s":6,"f":63068.61,"v":122},{"s":6,"f":63066.37,"v":118},{"s":6,"f":63064.13,"v":107}]
},
"vconcat":[
{"width":1686,"height":91,
 "encoding":{"x":{"field":"f","type":"quantitative","scale":{"domain":[63226,63217,63200,63175,63150,63125,63100,63075,63064,63056.5],"range":[0,97.6,282,537,769,1008.5,1255.4,1500,1608,1686],"nice":false,"zero":false},"axis":null}},
 "layer":[
  {"data":{"name":"gps"},"mark":{"type":"line","interpolate":"monotone","color":"#ee3b2b","strokeWidth":1.6,"strokeDash":[3,2.5]},
   "encoding":{"x":{"field":"f","type":"quantitative","axis":{"values":[63200,63175,63150,63125,63100,63075],"labels":false,"title":null,"tickSize":9}},
    "y":{"field":"v","type":"quantitative","scale":{"domain":[0,300],"nice":false,"zero":false},"axis":{"orient":"left","values":[0,75,150,225,300],"labelExpr":"datum.value % 150 == 0 ? datum.label : ''","domainColor":"#1e1e78","tickColor":"#1e1e78","labelColor":"#1e1e78","title":"GPS Alt. (m)","titleColor":"#ee3b2b","titleX":-172,"titleY":34}}}},
  {"data":{"name":"topo"},"mark":{"type":"line","interpolate":"monotone","color":"#26267e","strokeWidth":1.6},
   "encoding":{"y":{"field":"v","type":"quantitative","scale":{"domain":[0,300],"nice":false,"zero":false},"axis":{"orient":"left","domain":false,"ticks":false,"labels":false,"title":"Topography (m)","titleColor":"#1e1e78","titleX":-172,"titleY":57}}}},
  {"data":{"name":"gps"},"mark":{"type":"point","opacity":0},
   "encoding":{"y":{"field":"v","type":"quantitative","scale":{"domain":[0,300],"nice":false,"zero":false},"axis":{"orient":"right","values":[0,75,150,225,300],"labelExpr":"datum.value % 150 == 0 ? datum.label : ''","domainColor":"#1e1e78","tickColor":"#1e1e78","labelColor":"#1e1e78","title":"GPS Alt. (m)","titleColor":"#ee3b2b","titleX":166,"titleY":34}}}},
  {"data":{"name":"topo"},"mark":{"type":"point","opacity":0},
   "encoding":{"y":{"field":"v","type":"quantitative","scale":{"domain":[0,300],"nice":false,"zero":false},"axis":{"orient":"right","domain":false,"ticks":false,"labels":false,"title":"Topography (m)","titleColor":"#1e1e78","titleX":168,"titleY":57}}}},
  {"data":{"name":"gps"},"mark":{"type":"point","opacity":0},
   "encoding":{"x":{"field":"f","type":"quantitative","axis":{"orient":"top","values":[63221.7,63144.7,63061],"labelExpr":"datum.value > 63200 ? 'S' : (datum.value < 63100 ? 'N' : 'NTS / SNRC 31 G/9')","offset":38,"domain":true,"domainDash":[21,1644,21],"domainColor":"#222","domainWidth":1.5,"ticks":false,"tickSize":0,"labelPadding":0,"labelBaseline":"alphabetic","labelFontSize":28,"labelLimit":0,"labelFlush":false,"labelOverlap":false,"labelColor":"#222","title":null}},
    "y":{"field":"v","type":"quantitative","scale":{"domain":[0,300],"nice":false,"zero":false},"axis":null}}},
  {"data":{"name":"gps"},"mark":{"type":"point","opacity":0},
   "encoding":{"x":{"field":"f","type":"quantitative","axis":{"orient":"top","values":[63226,63056.5],"offset":8,"domain":false,"labels":false,"ticks":true,"tickSize":30,"tickColor":"#222","tickWidth":1.5,"title":null}},
    "y":{"field":"v","type":"quantitative","scale":{"domain":[0,300],"nice":false,"zero":false},"axis":null}}}
 ],
 "resolve":{"axis":{"x":"independent","y":"independent"}}
},
{"width":1686,"height":91,"data":{"name":"thk"},
 "encoding":{"x":{"field":"f","type":"quantitative","scale":{"domain":[63226,63217,63200,63175,63150,63125,63100,63075,63064,63056.5],"range":[0,97.6,282,537,769,1008.5,1255.4,1500,1608,1686],"nice":false,"zero":false},"axis":{"values":[63200,63175,63150,63125,63100,63075],"labels":false,"title":null,"tickSize":9}},"order":{"field":"f","type":"quantitative","sort":"descending"}},
 "layer":[
  {"mark":{"type":"line","interpolate":"step-after","color":"#1a1a1a","strokeWidth":1.6},
   "encoding":{"y":{"field":"v","type":"quantitative","scale":{"domain":[0,10],"nice":false,"zero":false},"axis":{"orient":"left","values":[0,2.5,5,7.5,10],"labelExpr":"datum.value % 5 == 0 ? datum.label : ''","title":["eTh/K","x10–4"],"titleX":-172,"titleY":45.5}}}},
  {"mark":{"type":"point","opacity":0},
   "encoding":{"y":{"field":"v","type":"quantitative","scale":{"domain":[0,10],"nice":false,"zero":false},"axis":{"orient":"right","values":[0,2.5,5,7.5,10],"labelExpr":"datum.value % 5 == 0 ? datum.label : ''","title":["eTh/K","x10–4"],"titleX":150,"titleY":45.5}}}}
 ],
 "resolve":{"axis":{"y":"independent"}}
},
{"width":1686,"height":91,"data":{"name":"uk"},
 "encoding":{"x":{"field":"f","type":"quantitative","scale":{"domain":[63226,63217,63200,63175,63150,63125,63100,63075,63064,63056.5],"range":[0,97.6,282,537,769,1008.5,1255.4,1500,1608,1686],"nice":false,"zero":false},"axis":{"values":[63200,63175,63150,63125,63100,63075],"labels":false,"title":null,"tickSize":9}},"order":{"field":"f","type":"quantitative","sort":"descending"},"detail":{"field":"s","type":"nominal"}},
 "layer":[
  {"mark":{"type":"line","interpolate":"step-after","color":"#1a1a1a","strokeWidth":1.6},
   "encoding":{"y":{"field":"v","type":"quantitative","scale":{"domain":[0,2],"nice":false,"zero":false},"axis":{"orient":"left","values":[0,0.5,1,1.5,2],"format":".0f","labelExpr":"datum.value % 1 == 0 ? datum.label : ''","title":["eU/K","x10–4"],"titleX":-172,"titleY":45.5}}}},
  {"mark":{"type":"point","opacity":0},
   "encoding":{"y":{"field":"v","type":"quantitative","scale":{"domain":[0,2],"nice":false,"zero":false},"axis":{"orient":"right","values":[0,0.5,1,1.5,2],"format":".0f","labelExpr":"datum.value % 1 == 0 ? datum.label : ''","title":["eU/K","x10–4"],"titleX":150,"titleY":45.5}}}}
 ],
 "resolve":{"axis":{"y":"independent"}}
},
{"width":1686,"height":91,"data":{"name":"uth"},
 "encoding":{"x":{"field":"f","type":"quantitative","scale":{"domain":[63226,63217,63200,63175,63150,63125,63100,63075,63064,63056.5],"range":[0,97.6,282,537,769,1008.5,1255.4,1500,1608,1686],"nice":false,"zero":false},"axis":{"values":[63200,63175,63150,63125,63100,63075],"labels":false,"title":null,"tickSize":9}},"order":{"field":"f","type":"quantitative","sort":"descending"}},
 "layer":[
  {"mark":{"type":"line","interpolate":"step-after","color":"#1a1a1a","strokeWidth":1.6},
   "encoding":{"y":{"field":"v","type":"quantitative","scale":{"domain":[0,1],"nice":false,"zero":false},"axis":{"orient":"left","values":[0,0.25,0.5,0.75,1],"format":".1f","labelExpr":"(datum.value * 4) % 2 == 0 ? datum.label : ''","title":"eU/eTh","titleX":-172,"titleY":45.5}}}},
  {"mark":{"type":"point","opacity":0},
   "encoding":{"y":{"field":"v","type":"quantitative","scale":{"domain":[0,1],"nice":false,"zero":false},"axis":{"orient":"right","values":[0,0.25,0.5,0.75,1],"format":".1f","labelExpr":"(datum.value * 4) % 2 == 0 ? datum.label : ''","title":"eU/eTh","titleX":150,"titleY":45.5}}}}
 ],
 "resolve":{"axis":{"y":"independent"}}
},
{"width":1686,"height":91,"data":{"name":"th"},
 "encoding":{"x":{"field":"f","type":"quantitative","scale":{"domain":[63226,63217,63200,63175,63150,63125,63100,63075,63064,63056.5],"range":[0,97.6,282,537,769,1008.5,1255.4,1500,1608,1686],"nice":false,"zero":false},"axis":{"values":[63200,63175,63150,63125,63100,63075],"labels":false,"title":null,"tickSize":9}},"order":{"field":"f","type":"quantitative","sort":"descending"}},
 "layer":[
  {"mark":{"type":"line","interpolate":"step-after","color":"#1a1a1a","strokeWidth":1.6},
   "encoding":{"y":{"field":"v","type":"quantitative","scale":{"domain":[0,20],"nice":false,"zero":false},"axis":{"orient":"left","values":[0,5,10,15,20],"labelExpr":"datum.value % 10 == 0 ? datum.label : ''","title":["eTh","(ppm)"],"titleX":-172,"titleY":45.5}}}},
  {"mark":{"type":"point","opacity":0},
   "encoding":{"y":{"field":"v","type":"quantitative","scale":{"domain":[0,20],"nice":false,"zero":false},"axis":{"orient":"right","values":[0,5,10,15,20],"labelExpr":"datum.value % 10 == 0 ? datum.label : ''","title":["eTh","(ppm)"],"titleX":150,"titleY":45.5}}}}
 ],
 "resolve":{"axis":{"y":"independent"}}
},
{"width":1686,"height":91,"data":{"name":"u"},
 "encoding":{"x":{"field":"f","type":"quantitative","scale":{"domain":[63226,63217,63200,63175,63150,63125,63100,63075,63064,63056.5],"range":[0,97.6,282,537,769,1008.5,1255.4,1500,1608,1686],"nice":false,"zero":false},"axis":{"values":[63200,63175,63150,63125,63100,63075],"labels":false,"title":null,"tickSize":9}},"order":{"field":"f","type":"quantitative","sort":"descending"}},
 "layer":[
  {"mark":{"type":"line","interpolate":"step-after","color":"#1a1a1a","strokeWidth":1.6},
   "encoding":{"y":{"field":"v","type":"quantitative","scale":{"domain":[0,4],"nice":false,"zero":false},"axis":{"orient":"left","values":[0,1,2,3,4],"labelExpr":"datum.value % 2 == 0 ? datum.label : ''","title":["eU","(ppm)"],"titleX":-172,"titleY":45.5}}}},
  {"mark":{"type":"point","opacity":0},
   "encoding":{"y":{"field":"v","type":"quantitative","scale":{"domain":[0,4],"nice":false,"zero":false},"axis":{"orient":"right","values":[0,1,2,3,4],"labelExpr":"datum.value % 2 == 0 ? datum.label : ''","title":["eU","(ppm)"],"titleX":150,"titleY":45.5}}}}
 ],
 "resolve":{"axis":{"y":"independent"}}
},
{"width":1686,"height":91,"data":{"name":"k"},
 "encoding":{"x":{"field":"f","type":"quantitative","scale":{"domain":[63226,63217,63200,63175,63150,63125,63100,63075,63064,63056.5],"range":[0,97.6,282,537,769,1008.5,1255.4,1500,1608,1686],"nice":false,"zero":false},"axis":{"values":[63200,63175,63150,63125,63100,63075],"labels":false,"title":null,"tickSize":9}},"order":{"field":"f","type":"quantitative","sort":"descending"},"detail":{"field":"s","type":"nominal"}},
 "layer":[
  {"mark":{"type":"line","interpolate":"step-after","color":"#1a1a1a","strokeWidth":1.6},
   "encoding":{"y":{"field":"v","type":"quantitative","scale":{"domain":[0,2],"nice":false,"zero":false},"axis":{"orient":"left","values":[0,0.5,1,1.5,2],"format":".0f","labelExpr":"datum.value % 1 == 0 ? datum.label : ''","title":["K","(%)"],"titleX":-172,"titleY":45.5}}}},
  {"mark":{"type":"point","opacity":0},
   "encoding":{"y":{"field":"v","type":"quantitative","scale":{"domain":[0,2],"nice":false,"zero":false},"axis":{"orient":"right","values":[0,0.5,1,1.5,2],"format":".0f","labelExpr":"datum.value % 1 == 0 ? datum.label : ''","title":["K","(%)"],"titleX":150,"titleY":45.5}}}}
 ],
 "resolve":{"axis":{"y":"independent"}}
},
{"width":1686,"height":91,"data":{"name":"nadr"},
 "encoding":{"x":{"field":"f","type":"quantitative","scale":{"domain":[63226,63217,63200,63175,63150,63125,63100,63075,63064,63056.5],"range":[0,97.6,282,537,769,1008.5,1255.4,1500,1608,1686],"nice":false,"zero":false},"axis":{"values":[63200,63175,63150,63125,63100,63075],"labels":false,"title":null,"tickSize":9}},"order":{"field":"f","type":"quantitative","sort":"descending"}},
 "layer":[
  {"mark":{"type":"line","interpolate":"step-after","color":"#1a1a1a","strokeWidth":1.6},
   "encoding":{"y":{"field":"v","type":"quantitative","scale":{"domain":[0,60],"nice":false,"zero":false},"axis":{"orient":"left","values":[0,15,30,45,60],"labelExpr":"datum.value % 30 == 0 ? datum.label : ''","title":["NADR","(nGy/h)"],"titleX":-172,"titleY":45.5}}}},
  {"mark":{"type":"point","opacity":0},
   "encoding":{"y":{"field":"v","type":"quantitative","scale":{"domain":[0,60],"nice":false,"zero":false},"axis":{"orient":"right","values":[0,15,30,45,60],"labelExpr":"datum.value % 30 == 0 ? datum.label : ''","title":["NADR","(nGy/h)"],"titleX":150,"titleY":45.5}}}}
 ],
 "resolve":{"axis":{"y":"independent"}}
},
{"width":1686,"height":91,"data":{"name":"mvg"},
 "encoding":{"x":{"field":"f","type":"quantitative","scale":{"domain":[63226,63217,63200,63175,63150,63125,63100,63075,63064,63056.5],"range":[0,97.6,282,537,769,1008.5,1255.4,1500,1608,1686],"nice":false,"zero":false},"axis":{"values":[63200,63175,63150,63125,63100,63075],"labels":false,"title":null,"tickSize":9}},"detail":{"field":"s","type":"nominal"}},
 "layer":[
  {"mark":{"type":"line","interpolate":"monotone","color":"#2a2a2a","strokeWidth":1.3},
   "encoding":{"y":{"field":"v","type":"quantitative","scale":{"domain":[-0.3,0.3],"nice":false,"zero":false},"axis":{"orient":"left","values":[-0.3,-0.15,0,0.15,0.3],"format":".1f","labelExpr":"abs(datum.value) < 0.01 || abs(datum.value) > 0.29 ? datum.label : ''","title":["Mag. Vertical Grad.","(nT/m)"],"titleX":-181,"titleY":45.5}}}},
  {"mark":{"type":"point","opacity":0},
   "encoding":{"y":{"field":"v","type":"quantitative","scale":{"domain":[-0.3,0.3],"nice":false,"zero":false},"axis":{"orient":"right","values":[-0.3,-0.15,0,0.15,0.3],"format":".1f","labelExpr":"abs(datum.value) < 0.01 || abs(datum.value) > 0.29 ? datum.label : ''","title":["Mag. Vertical Grad.","(nT/m)"],"titleX":139,"titleY":45.5}}}}
 ],
 "resolve":{"axis":{"y":"independent"}}
},
{"width":1686,"height":91,"data":{"name":"mtf"},
 "encoding":{"x":{"field":"f","type":"quantitative","scale":{"domain":[63226,63217,63200,63175,63150,63125,63100,63075,63064,63056.5],"range":[0,97.6,282,537,769,1008.5,1255.4,1500,1608,1686],"nice":false,"zero":false},"axis":{"values":[63200,63175,63150,63125,63100,63075],"format":"d","labelExpr":"datum.value % 50 == 0 ? datum.label : ''","labelFlush":false,"labelPadding":18,"title":null,"tickSize":9}},"detail":{"field":"s","type":"nominal"}},
 "layer":[
  {"mark":{"type":"line","interpolate":"monotone","color":"#2a2a2a","strokeWidth":1.3},
   "encoding":{"y":{"field":"v","type":"quantitative","scale":{"domain":[100,300],"nice":false,"zero":false},"axis":{"orient":"left","values":[100,150,200,250,300],"labelExpr":"datum.value % 100 == 0 ? datum.label : ''","title":["Mag. Total Field","(nT)"],"titleX":-174,"titleY":45.5}}}},
  {"mark":{"type":"point","opacity":0},
   "encoding":{"y":{"field":"v","type":"quantitative","scale":{"domain":[100,300],"nice":false,"zero":false},"axis":{"orient":"right","values":[100,150,200,250,300],"labelExpr":"datum.value % 100 == 0 ? format(datum.value - 200, 'd') : ''","title":["Mag. Total Field","(nT)"],"titleX":140,"titleY":45.5}}}}
 ],
 "resolve":{"axis":{"y":"independent"}}
}
]
}
